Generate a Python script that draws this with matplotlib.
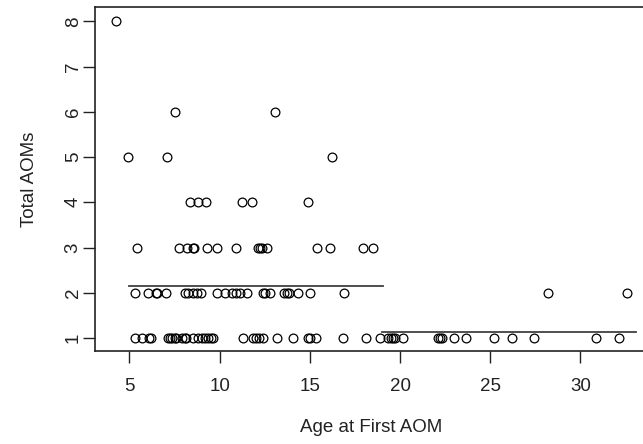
import numpy as np
import matplotlib
matplotlib.use("Agg")
import matplotlib.pyplot as plt

plt.rcParams['font.family'] = ['Liberation Sans', 'DejaVu Sans']

# age at first AOM, grouped by total AOM count
age_1 = [5.3, 5.7, 6.1, 6.2, 7.15, 7.25, 7.35, 7.5, 7.6, 7.9, 8.07, 8.15, 8.5,
         8.8, 9.0, 9.2, 9.35, 9.5, 9.65, 11.3, 11.85, 12.0, 12.2, 12.4, 13.2,
         14.05, 14.9, 15.0, 15.35, 16.85, 18.1, 18.9, 19.35, 19.5, 19.6, 19.7,
         20.15, 22.1, 22.2, 22.3, 23.0, 23.65, 25.2, 26.2, 27.4, 30.85, 32.15]
age_2 = [5.3, 6.04, 6.45, 6.55, 7.02, 8.08, 8.26, 8.5, 8.75, 8.95, 9.83, 10.32,
         10.67, 10.92, 11.15, 11.53, 12.42, 12.52, 12.79, 13.55, 13.72, 13.85,
         14.36, 15.02, 16.9, 28.2, 32.6]
age_3 = [5.43, 7.72, 8.17, 8.5, 8.6, 9.3, 9.87, 10.9, 12.1, 12.25, 12.35, 12.6,
         15.38, 16.1, 17.95, 18.48]
age_4 = [8.35, 8.8, 9.25, 11.22, 11.8, 14.87]
age_5 = [4.93, 7.06, 16.2]
age_6 = [7.52, 13.07]
age_8 = [4.23]

# group means either side of the split
seg_x = [(5.0, 19.07), (19.01, 33.06)]
seg_y = [2.15, 1.13]

groups = [(age_1, 1), (age_2, 2), (age_3, 3), (age_4, 4), (age_5, 5),
          (age_6, 6), (age_8, 8)]

fig = plt.figure(figsize=(6.43, 4.44), dpi=100)
ax = fig.add_axes([95/643, 1 - 350.7/444, 552.2/643, 343.4/444])

for ages, n in groups:
    ax.plot(ages, [n] * len(ages), 'o', mfc='none', mec='black', ms=6.3, mew=0.9)

for (x0, x1), yv in zip(seg_x, seg_y):
    ax.plot([x0, x1], [yv, yv], color='#404040', lw=1.3)

ax.set_xlim(3.088, 33.7)
ax.set_ylim(0.72, 8.31)
ax.set_xticks([5, 10, 15, 20, 25, 30])
ax.set_yticks(range(1, 9))
ax.tick_params(axis='x', length=8.5, width=1.0, pad=11, labelsize=13.5, colors='#222222')
ax.tick_params(axis='y', length=8.5, width=1.0, pad=1, labelsize=13.5, colors='#222222')
for lab in ax.get_yticklabels():
    lab.set_rotation(90)
    lab.set_va('center')
for sp in ax.spines.values():
    sp.set_linewidth(1.2)
    sp.set_color('#222222')

ax.set_xlabel('Age at First AOM', fontsize=13.5, color='#222222')
ax.set_ylabel('Total AOMs', fontsize=13.5, color='#222222')
ax.xaxis.set_label_coords(0.5, -0.225)
ax.xaxis.label.set_va('center')
ax.yaxis.set_label_coords(-0.118, 0.5)
ax.yaxis.label.set_va('center')

fig.savefig('out.png', dpi=100)
